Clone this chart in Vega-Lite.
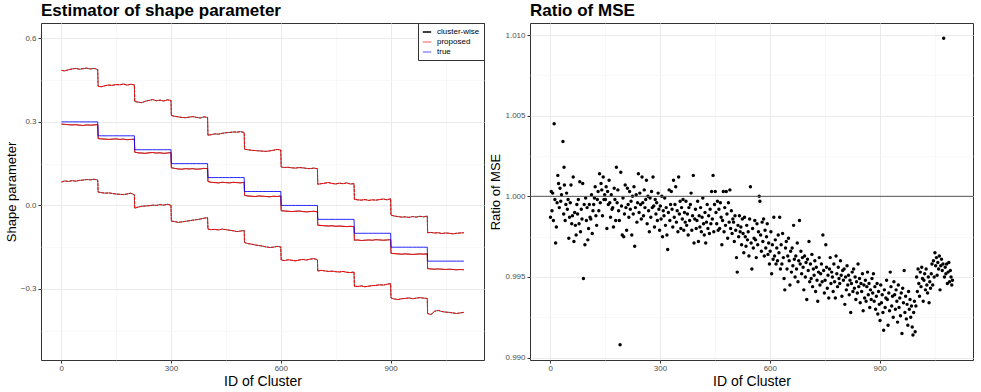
{
"$schema": "https://vega.github.io/schema/vega-lite/v6.json",
"padding": {"left": 4, "top": 1, "right": 6, "bottom": 0},
"background": "white",
"config": {
  "font": "Liberation Sans",
  "view": {"stroke": "#333333", "strokeWidth": 1},
  "axis": {"domain": false, "tickColor": "#333333", "tickSize": 3, "labelColor": "#4D4D4D", "labelFontSize": 8, "labelPadding": 1, "titleFontSize": 14, "titleFontWeight": "normal", "titleColor": "black", "titlePadding": 2}
},
"datasets": {
"est": [
{"id":1,"h":0.485,"m":0.292,"l":0.084,"tr":0.3},{"id":10,"h":0.483,"m":0.291,"l":0.088,"tr":0.3},{"id":20,"h":0.487,"m":0.290,"l":0.086,"tr":0.3},{"id":30,"h":0.490,"m":0.289,"l":0.089,"tr":0.3},{"id":40,"h":0.492,"m":0.290,"l":0.087,"tr":0.3},{"id":50,"h":0.489,"m":0.288,"l":0.090,"tr":0.3},{"id":60,"h":0.491,"m":0.287,"l":0.091,"tr":0.3},{"id":70,"h":0.493,"m":0.289,"l":0.093,"tr":0.3},{"id":80,"h":0.490,"m":0.288,"l":0.092,"tr":0.3},{"id":90,"h":0.492,"m":0.289,"l":0.094,"tr":0.3},{"id":100,"h":0.488,"m":0.290,"l":0.091,"tr":0.3},
{"id":101,"h":0.428,"m":0.240,"l":0.048,"tr":0.25},{"id":110,"h":0.426,"m":0.239,"l":0.046,"tr":0.25},{"id":120,"h":0.430,"m":0.238,"l":0.044,"tr":0.25},{"id":130,"h":0.432,"m":0.237,"l":0.045,"tr":0.25},{"id":140,"h":0.431,"m":0.238,"l":0.043,"tr":0.25},{"id":150,"h":0.434,"m":0.239,"l":0.041,"tr":0.25},{"id":160,"h":0.433,"m":0.237,"l":0.040,"tr":0.25},{"id":170,"h":0.436,"m":0.238,"l":0.039,"tr":0.25},{"id":180,"h":0.432,"m":0.236,"l":0.041,"tr":0.25},{"id":190,"h":0.435,"m":0.237,"l":0.044,"tr":0.25},{"id":200,"h":0.433,"m":0.238,"l":0.038,"tr":0.25},
{"id":201,"h":0.373,"m":0.191,"l":-0.010,"tr":0.2},{"id":210,"h":0.371,"m":0.189,"l":-0.006,"tr":0.2},{"id":220,"h":0.369,"m":0.188,"l":-0.003,"tr":0.2},{"id":230,"h":0.374,"m":0.187,"l":-0.002,"tr":0.2},{"id":240,"h":0.377,"m":0.189,"l":-0.001,"tr":0.2},{"id":250,"h":0.380,"m":0.190,"l":0.001,"tr":0.2},{"id":260,"h":0.376,"m":0.188,"l":0.000,"tr":0.2},{"id":270,"h":0.378,"m":0.189,"l":0.003,"tr":0.2},{"id":280,"h":0.375,"m":0.187,"l":0.001,"tr":0.2},{"id":290,"h":0.379,"m":0.188,"l":0.004,"tr":0.2},{"id":300,"h":0.377,"m":0.190,"l":0.001,"tr":0.2},
{"id":301,"h":0.323,"m":0.135,"l":-0.056,"tr":0.15},{"id":310,"h":0.320,"m":0.133,"l":-0.058,"tr":0.15},{"id":320,"h":0.318,"m":0.131,"l":-0.061,"tr":0.15},{"id":330,"h":0.316,"m":0.130,"l":-0.059,"tr":0.15},{"id":340,"h":0.315,"m":0.132,"l":-0.057,"tr":0.15},{"id":350,"h":0.317,"m":0.131,"l":-0.055,"tr":0.15},{"id":360,"h":0.319,"m":0.132,"l":-0.053,"tr":0.15},{"id":370,"h":0.316,"m":0.130,"l":-0.051,"tr":0.15},{"id":380,"h":0.314,"m":0.131,"l":-0.049,"tr":0.15},{"id":390,"h":0.318,"m":0.133,"l":-0.046,"tr":0.15},{"id":400,"h":0.316,"m":0.132,"l":-0.044,"tr":0.15},
{"id":401,"h":0.252,"m":0.086,"l":-0.085,"tr":0.1},{"id":410,"h":0.254,"m":0.083,"l":-0.087,"tr":0.1},{"id":420,"h":0.257,"m":0.082,"l":-0.086,"tr":0.1},{"id":430,"h":0.256,"m":0.081,"l":-0.088,"tr":0.1},{"id":440,"h":0.259,"m":0.083,"l":-0.085,"tr":0.1},{"id":450,"h":0.261,"m":0.082,"l":-0.087,"tr":0.1},{"id":460,"h":0.262,"m":0.081,"l":-0.089,"tr":0.1},{"id":470,"h":0.264,"m":0.083,"l":-0.091,"tr":0.1},{"id":480,"h":0.263,"m":0.082,"l":-0.094,"tr":0.1},{"id":490,"h":0.265,"m":0.081,"l":-0.092,"tr":0.1},{"id":500,"h":0.262,"m":0.083,"l":-0.090,"tr":0.1},
{"id":501,"h":0.202,"m":0.036,"l":-0.133,"tr":0.05},{"id":510,"h":0.200,"m":0.034,"l":-0.137,"tr":0.05},{"id":520,"h":0.198,"m":0.033,"l":-0.139,"tr":0.05},{"id":530,"h":0.197,"m":0.032,"l":-0.142,"tr":0.05},{"id":540,"h":0.196,"m":0.034,"l":-0.144,"tr":0.05},{"id":550,"h":0.195,"m":0.033,"l":-0.146,"tr":0.05},{"id":560,"h":0.194,"m":0.032,"l":-0.149,"tr":0.05},{"id":570,"h":0.196,"m":0.031,"l":-0.151,"tr":0.05},{"id":580,"h":0.198,"m":0.033,"l":-0.150,"tr":0.05},{"id":590,"h":0.201,"m":0.032,"l":-0.147,"tr":0.05},{"id":600,"h":0.199,"m":0.034,"l":-0.149,"tr":0.05},
{"id":601,"h":0.138,"m":-0.019,"l":-0.196,"tr":0.0},{"id":610,"h":0.136,"m":-0.020,"l":-0.198,"tr":0.0},{"id":620,"h":0.137,"m":-0.021,"l":-0.195,"tr":0.0},{"id":630,"h":0.135,"m":-0.022,"l":-0.197,"tr":0.0},{"id":640,"h":0.134,"m":-0.021,"l":-0.199,"tr":0.0},{"id":650,"h":0.136,"m":-0.020,"l":-0.196,"tr":0.0},{"id":660,"h":0.135,"m":-0.022,"l":-0.194,"tr":0.0},{"id":670,"h":0.133,"m":-0.023,"l":-0.196,"tr":0.0},{"id":680,"h":0.132,"m":-0.022,"l":-0.193,"tr":0.0},{"id":690,"h":0.134,"m":-0.021,"l":-0.191,"tr":0.0},{"id":700,"h":0.132,"m":-0.023,"l":-0.195,"tr":0.0},
{"id":701,"h":0.076,"m":-0.071,"l":-0.236,"tr":-0.05},{"id":710,"h":0.078,"m":-0.072,"l":-0.233,"tr":-0.05},{"id":720,"h":0.080,"m":-0.073,"l":-0.235,"tr":-0.05},{"id":730,"h":0.082,"m":-0.074,"l":-0.237,"tr":-0.05},{"id":740,"h":0.079,"m":-0.073,"l":-0.236,"tr":-0.05},{"id":750,"h":0.077,"m":-0.075,"l":-0.238,"tr":-0.05},{"id":760,"h":0.080,"m":-0.074,"l":-0.239,"tr":-0.05},{"id":770,"h":0.078,"m":-0.075,"l":-0.237,"tr":-0.05},{"id":780,"h":0.081,"m":-0.076,"l":-0.240,"tr":-0.05},{"id":790,"h":0.077,"m":-0.075,"l":-0.241,"tr":-0.05},{"id":800,"h":0.078,"m":-0.076,"l":-0.239,"tr":-0.05},
{"id":801,"h":0.022,"m":-0.125,"l":-0.290,"tr":-0.1},{"id":810,"h":0.020,"m":-0.124,"l":-0.291,"tr":-0.1},{"id":820,"h":0.019,"m":-0.126,"l":-0.289,"tr":-0.1},{"id":830,"h":0.021,"m":-0.125,"l":-0.292,"tr":-0.1},{"id":840,"h":0.018,"m":-0.124,"l":-0.290,"tr":-0.1},{"id":850,"h":0.020,"m":-0.125,"l":-0.288,"tr":-0.1},{"id":860,"h":0.019,"m":-0.123,"l":-0.287,"tr":-0.1},{"id":870,"h":0.021,"m":-0.124,"l":-0.285,"tr":-0.1},{"id":880,"h":0.023,"m":-0.125,"l":-0.286,"tr":-0.1},{"id":890,"h":0.020,"m":-0.124,"l":-0.283,"tr":-0.1},{"id":900,"h":0.024,"m":-0.123,"l":-0.281,"tr":-0.1},
{"id":901,"h":-0.035,"m":-0.172,"l":-0.332,"tr":-0.15},{"id":910,"h":-0.038,"m":-0.173,"l":-0.336,"tr":-0.15},{"id":920,"h":-0.040,"m":-0.174,"l":-0.338,"tr":-0.15},{"id":930,"h":-0.042,"m":-0.175,"l":-0.335,"tr":-0.15},{"id":940,"h":-0.041,"m":-0.174,"l":-0.334,"tr":-0.15},{"id":950,"h":-0.043,"m":-0.175,"l":-0.332,"tr":-0.15},{"id":960,"h":-0.040,"m":-0.176,"l":-0.335,"tr":-0.15},{"id":970,"h":-0.042,"m":-0.175,"l":-0.333,"tr":-0.15},{"id":980,"h":-0.039,"m":-0.174,"l":-0.331,"tr":-0.15},{"id":990,"h":-0.041,"m":-0.175,"l":-0.333,"tr":-0.15},{"id":1000,"h":-0.038,"m":-0.174,"l":-0.334,"tr":-0.15},
{"id":1001,"h":-0.098,"m":-0.227,"l":-0.388,"tr":-0.2},{"id":1010,"h":-0.097,"m":-0.228,"l":-0.392,"tr":-0.2},{"id":1020,"h":-0.099,"m":-0.229,"l":-0.380,"tr":-0.2},{"id":1030,"h":-0.098,"m":-0.228,"l":-0.377,"tr":-0.2},{"id":1040,"h":-0.101,"m":-0.229,"l":-0.381,"tr":-0.2},{"id":1050,"h":-0.099,"m":-0.230,"l":-0.383,"tr":-0.2},{"id":1060,"h":-0.100,"m":-0.229,"l":-0.384,"tr":-0.2},{"id":1070,"h":-0.102,"m":-0.230,"l":-0.386,"tr":-0.2},{"id":1080,"h":-0.100,"m":-0.231,"l":-0.388,"tr":-0.2},{"id":1090,"h":-0.099,"m":-0.230,"l":-0.386,"tr":-0.2},{"id":1100,"h":-0.098,"m":-0.231,"l":-0.384,"tr":-0.2}
],
"mse": [
{"i":1,"r":0.9987},{"i":3,"r":1.0003},{"i":5,"r":0.9991},{"i":7,"r":1.0002},{"i":9,"r":0.9985},
{"i":11,"r":1.0045},{"i":13,"r":0.9998},{"i":15,"r":0.9971},{"i":17,"r":0.9981},{"i":19,"r":0.9996},
{"i":21,"r":1.0013},{"i":23,"r":1.0008},{"i":25,"r":0.9993},{"i":27,"r":1.0005},{"i":29,"r":0.9997},
{"i":31,"r":1.0001},{"i":35,"r":1.0034},{"i":38,"r":1.0018},{"i":37,"r":0.9989},{"i":39,"r":1.0007},
{"i":41,"r":0.9985},{"i":43,"r":0.9995},{"i":45,"r":1.0002},{"i":47,"r":0.9992},{"i":49,"r":0.9998},
{"i":51,"r":0.9974},{"i":53,"r":0.9987},{"i":55,"r":0.9996},{"i":57,"r":1.0007},{"i":59,"r":0.9983},
{"i":61,"r":0.9988},{"i":63,"r":1.0012},{"i":65,"r":0.9972},{"i":67,"r":0.9990},{"i":69,"r":0.9982},
{"i":71,"r":0.9976},{"i":73,"r":0.9995},{"i":75,"r":0.9989},{"i":77,"r":0.9998},{"i":79,"r":0.9983},
{"i":81,"r":1.0009},{"i":83,"r":0.9978},{"i":85,"r":0.9992},{"i":87,"r":0.9986},{"i":89,"r":1.0008},
{"i":91,"r":0.9949},{"i":93,"r":0.9995},{"i":95,"r":0.9970},{"i":97,"r":0.9999},{"i":99,"r":0.9985},
{"i":101,"r":0.9993},{"i":103,"r":0.9973},{"i":105,"r":0.9980},{"i":107,"r":0.9995},{"i":109,"r":0.9987},
{"i":111,"r":0.9986},{"i":113,"r":1.0001},{"i":115,"r":0.9977},{"i":117,"r":0.9991},{"i":119,"r":0.9995},
{"i":121,"r":0.9999},{"i":123,"r":1.0006},{"i":125,"r":0.9988},{"i":127,"r":0.9982},{"i":129,"r":0.9998},
{"i":131,"r":1.0003},{"i":133,"r":0.9991},{"i":135,"r":1.0014},{"i":137,"r":0.9996},{"i":139,"r":1.0008},
{"i":141,"r":1.0004},{"i":143,"r":0.9988},{"i":145,"r":1.0012},{"i":147,"r":0.9998},{"i":149,"r":1.0001},
{"i":151,"r":0.9998},{"i":153,"r":1.0006},{"i":155,"r":0.9980},{"i":157,"r":1.0003},{"i":159,"r":0.9995},
{"i":161,"r":1.0010},{"i":163,"r":0.9996},{"i":165,"r":0.9987},{"i":167,"r":1.0001},{"i":169,"r":0.9992},
{"i":171,"r":0.9993},{"i":173,"r":0.9981},{"i":175,"r":1.0005},{"i":177,"r":0.9998},{"i":179,"r":0.9985},
{"i":181,"r":1.0018},{"i":183,"r":0.9996},{"i":185,"r":1.0004},{"i":187,"r":0.9991},{"i":189,"r":0.9985},
{"i":191,"r":0.9908},{"i":193,"r":1.0015},{"i":195,"r":0.9994},{"i":197,"r":0.9976},{"i":199,"r":0.9999},
{"i":201,"r":0.9975},{"i":203,"r":0.9989},{"i":205,"r":1.0007},{"i":207,"r":0.9993},{"i":209,"r":0.9979},
{"i":211,"r":1.0005},{"i":213,"r":0.9995},{"i":215,"r":0.9987},{"i":217,"r":1.0003},{"i":219,"r":0.9992},
{"i":221,"r":0.9997},{"i":223,"r":0.9976},{"i":225,"r":1.0000},{"i":227,"r":0.9989},{"i":229,"r":1.0006},
{"i":231,"r":0.9969},{"i":233,"r":0.9993},{"i":235,"r":1.0001},{"i":237,"r":0.9984},{"i":239,"r":0.9996},
{"i":241,"r":1.0014},{"i":243,"r":0.9990},{"i":245,"r":1.0002},{"i":247,"r":0.9995},{"i":249,"r":0.9986},
{"i":251,"r":1.0012},{"i":253,"r":0.9996},{"i":255,"r":0.9988},{"i":257,"r":1.0004},{"i":259,"r":0.9993},
{"i":261,"r":0.9998},{"i":263,"r":1.0010},{"i":265,"r":0.9983},{"i":267,"r":1.0000},{"i":269,"r":0.9991},
{"i":271,"r":0.9978},{"i":273,"r":0.9999},{"i":275,"r":0.9987},{"i":277,"r":1.0003},{"i":279,"r":0.9993},
{"i":281,"r":1.0012},{"i":283,"r":0.9994},{"i":285,"r":0.9981},{"i":287,"r":0.9998},{"i":289,"r":0.9989},
{"i":291,"r":0.9996},{"i":293,"r":0.9985},{"i":295,"r":1.0002},{"i":297,"r":0.9992},{"i":299,"r":0.9979},
{"i":301,"r":0.9994},{"i":303,"r":0.9986},{"i":305,"r":1.0000},{"i":307,"r":0.9975},{"i":309,"r":0.9991},
{"i":311,"r":0.9988},{"i":313,"r":0.9999},{"i":315,"r":0.9982},{"i":317,"r":0.9993},{"i":319,"r":0.9976},
{"i":321,"r":0.9967},{"i":323,"r":0.9990},{"i":325,"r":1.0004},{"i":327,"r":0.9985},{"i":329,"r":0.9995},
{"i":331,"r":1.0003},{"i":333,"r":0.9992},{"i":335,"r":0.9981},{"i":337,"r":1.0010},{"i":339,"r":0.9987},
{"i":341,"r":0.9995},{"i":343,"r":1.0006},{"i":345,"r":0.9984},{"i":347,"r":0.9991},{"i":349,"r":0.9978},
{"i":351,"r":1.0012},{"i":353,"r":0.9989},{"i":355,"r":0.9997},{"i":357,"r":0.9980},{"i":359,"r":0.9993},
{"i":361,"r":0.9986},{"i":363,"r":0.9998},{"i":365,"r":0.9979},{"i":367,"r":0.9990},{"i":369,"r":0.9984},
{"i":371,"r":0.9997},{"i":373,"r":0.9982},{"i":375,"r":0.9989},{"i":377,"r":0.9976},{"i":379,"r":0.9993},
{"i":381,"r":0.9985},{"i":383,"r":0.9995},{"i":385,"r":1.0002},{"i":387,"r":0.9979},{"i":389,"r":0.9988},
{"i":391,"r":1.0013},{"i":393,"r":0.9971},{"i":395,"r":0.9986},{"i":397,"r":0.9992},{"i":399,"r":0.9980},
{"i":401,"r":0.9985},{"i":403,"r":0.9997},{"i":405,"r":0.9972},{"i":407,"r":0.9988},{"i":409,"r":0.9981},
{"i":411,"r":0.9993},{"i":413,"r":0.9978},{"i":415,"r":0.9987},{"i":417,"r":0.9999},{"i":419,"r":0.9983},
{"i":421,"r":0.9976},{"i":423,"r":0.9990},{"i":425,"r":0.9971},{"i":427,"r":0.9984},{"i":429,"r":0.9995},
{"i":431,"r":0.9980},{"i":433,"r":0.9988},{"i":435,"r":0.9977},{"i":437,"r":0.9992},{"i":439,"r":0.9983},
{"i":441,"r":1.0003},{"i":443,"r":0.9986},{"i":445,"r":1.0013},{"i":447,"r":0.9978},{"i":449,"r":0.9995},
{"i":451,"r":1.0003},{"i":453,"r":0.9990},{"i":455,"r":0.9983},{"i":457,"r":0.9997},{"i":459,"r":0.9979},
{"i":461,"r":0.9992},{"i":463,"r":0.9980},{"i":465,"r":0.9996},{"i":467,"r":0.9987},{"i":469,"r":0.9970},
{"i":471,"r":0.9985},{"i":473,"r":1.0003},{"i":475,"r":0.9978},{"i":477,"r":0.9993},{"i":479,"r":0.9982},
{"i":481,"r":1.0003},{"i":483,"r":0.9989},{"i":485,"r":0.9974},{"i":487,"r":0.9996},{"i":489,"r":0.9984},
{"i":491,"r":1.0004},{"i":493,"r":0.9980},{"i":495,"r":0.9991},{"i":497,"r":0.9977},{"i":499,"r":0.9986},
{"i":501,"r":0.9984},{"i":503,"r":0.9972},{"i":505,"r":0.9988},{"i":507,"r":0.9979},{"i":509,"r":0.9962},
{"i":511,"r":0.9953},{"i":513,"r":0.9982},{"i":515,"r":0.9975},{"i":517,"r":0.9988},{"i":519,"r":0.9978},
{"i":521,"r":0.9981},{"i":523,"r":0.9970},{"i":525,"r":0.9986},{"i":527,"r":0.9977},{"i":529,"r":0.9965},
{"i":531,"r":0.9987},{"i":533,"r":0.9975},{"i":535,"r":0.9969},{"i":537,"r":0.9982},{"i":539,"r":0.9973},
{"i":541,"r":0.9978},{"i":543,"r":0.9963},{"i":545,"r":0.9986},{"i":547,"r":1.0006},{"i":549,"r":0.9971},
{"i":551,"r":0.9955},{"i":553,"r":0.9980},{"i":555,"r":0.9968},{"i":557,"r":0.9974},{"i":559,"r":0.9985},
{"i":561,"r":0.9973},{"i":563,"r":0.9962},{"i":565,"r":0.9983},{"i":567,"r":0.9970},{"i":569,"r":0.9978},
{"i":571,"r":1.0000},{"i":573,"r":0.9997},{"i":575,"r":0.9976},{"i":577,"r":0.9966},{"i":579,"r":0.9984},
{"i":581,"r":0.9972},{"i":583,"r":0.9986},{"i":585,"r":0.9963},{"i":587,"r":0.9979},{"i":589,"r":0.9968},
{"i":591,"r":0.9975},{"i":593,"r":0.9983},{"i":595,"r":0.9964},{"i":597,"r":0.9971},{"i":599,"r":0.9958},
{"i":601,"r":0.9966},{"i":603,"r":0.9978},{"i":605,"r":0.9952},{"i":607,"r":0.9970},{"i":609,"r":0.9961},
{"i":611,"r":0.9987},{"i":613,"r":0.9963},{"i":615,"r":0.9973},{"i":617,"r":0.9958},{"i":619,"r":0.9968},
{"i":621,"r":0.9960},{"i":623,"r":0.9976},{"i":625,"r":0.9965},{"i":627,"r":0.9987},{"i":629,"r":0.9955},
{"i":631,"r":0.9970},{"i":633,"r":0.9958},{"i":635,"r":0.9977},{"i":637,"r":0.9962},{"i":639,"r":0.9949},
{"i":641,"r":0.9942},{"i":643,"r":0.9968},{"i":645,"r":0.9972},{"i":647,"r":0.9955},{"i":649,"r":0.9963},
{"i":651,"r":0.9974},{"i":653,"r":0.9960},{"i":655,"r":0.9945},{"i":657,"r":0.9966},{"i":659,"r":0.9953},
{"i":661,"r":0.9968},{"i":663,"r":0.9957},{"i":665,"r":0.9982},{"i":667,"r":0.9961},{"i":669,"r":0.9950},
{"i":671,"r":0.9963},{"i":673,"r":0.9955},{"i":675,"r":0.9971},{"i":677,"r":0.9947},{"i":679,"r":0.9960},
{"i":681,"r":0.9985},{"i":683,"r":0.9958},{"i":685,"r":0.9966},{"i":687,"r":0.9952},{"i":689,"r":0.9962},
{"i":691,"r":0.9956},{"i":693,"r":0.9942},{"i":695,"r":0.9963},{"i":697,"r":0.9950},{"i":699,"r":0.9959},
{"i":701,"r":0.9936},{"i":703,"r":0.9961},{"i":705,"r":0.9954},{"i":707,"r":0.9972},{"i":709,"r":0.9947},
{"i":711,"r":0.9958},{"i":713,"r":0.9949},{"i":715,"r":0.9964},{"i":717,"r":0.9944},{"i":719,"r":0.9955},
{"i":721,"r":0.9951},{"i":723,"r":0.9960},{"i":725,"r":0.9941},{"i":727,"r":0.9956},{"i":729,"r":0.9948},
{"i":731,"r":0.9935},{"i":733,"r":0.9953},{"i":735,"r":0.9962},{"i":737,"r":0.9945},{"i":739,"r":0.9952},
{"i":741,"r":0.9958},{"i":743,"r":0.9947},{"i":745,"r":0.9976},{"i":747,"r":0.9954},{"i":749,"r":0.9940},
{"i":751,"r":0.9948},{"i":753,"r":0.9970},{"i":755,"r":0.9956},{"i":757,"r":0.9943},{"i":759,"r":0.9951},
{"i":761,"r":0.9937},{"i":763,"r":0.9955},{"i":765,"r":0.9962},{"i":767,"r":0.9946},{"i":769,"r":0.9953},
{"i":771,"r":0.9950},{"i":773,"r":0.9941},{"i":775,"r":0.9958},{"i":777,"r":0.9947},{"i":779,"r":0.9937},
{"i":781,"r":0.9963},{"i":783,"r":0.9952},{"i":785,"r":0.9944},{"i":787,"r":0.9956},{"i":789,"r":0.9949},
{"i":791,"r":0.9946},{"i":793,"r":0.9960},{"i":795,"r":0.9951},{"i":797,"r":0.9938},{"i":799,"r":0.9954},
{"i":801,"r":0.9948},{"i":803,"r":0.9955},{"i":805,"r":0.9933},{"i":807,"r":0.9950},{"i":809,"r":0.9942},
{"i":811,"r":0.9957},{"i":813,"r":0.9945},{"i":815,"r":0.9951},{"i":817,"r":0.9939},{"i":819,"r":0.9948},
{"i":821,"r":0.9928},{"i":823,"r":0.9946},{"i":825,"r":0.9953},{"i":827,"r":0.9941},{"i":829,"r":0.9955},
{"i":831,"r":0.9943},{"i":833,"r":0.9950},{"i":835,"r":0.9936},{"i":837,"r":0.9947},{"i":839,"r":0.9940},
{"i":841,"r":0.9958},{"i":843,"r":0.9944},{"i":845,"r":0.9949},{"i":847,"r":0.9934},{"i":849,"r":0.9946},
{"i":851,"r":0.9941},{"i":853,"r":0.9952},{"i":855,"r":0.9929},{"i":857,"r":0.9945},{"i":859,"r":0.9937},
{"i":861,"r":0.9948},{"i":863,"r":0.9935},{"i":865,"r":0.9944},{"i":867,"r":0.9953},{"i":869,"r":0.9939},
{"i":871,"r":0.9946},{"i":873,"r":0.9931},{"i":875,"r":0.9942},{"i":877,"r":0.9936},{"i":879,"r":0.9949},
{"i":881,"r":0.9940},{"i":883,"r":0.9952},{"i":885,"r":0.9935},{"i":887,"r":0.9944},{"i":889,"r":0.9930},
{"i":891,"r":0.9938},{"i":893,"r":0.9946},{"i":895,"r":0.9927},{"i":897,"r":0.9941},{"i":899,"r":0.9933},
{"i":901,"r":0.9923},{"i":903,"r":0.9945},{"i":905,"r":0.9934},{"i":907,"r":0.9939},{"i":909,"r":0.9928},
{"i":911,"r":0.9917},{"i":913,"r":0.9942},{"i":915,"r":0.9931},{"i":917,"r":0.9937},{"i":919,"r":0.9948},
{"i":921,"r":0.9936},{"i":923,"r":0.9920},{"i":925,"r":0.9940},{"i":927,"r":0.9929},{"i":929,"r":0.9953},
{"i":931,"r":0.9944},{"i":933,"r":0.9932},{"i":935,"r":0.9938},{"i":937,"r":0.9925},{"i":939,"r":0.9947},
{"i":941,"r":0.9939},{"i":943,"r":0.9930},{"i":945,"r":0.9942},{"i":947,"r":0.9935},{"i":949,"r":0.9922},
{"i":951,"r":0.9945},{"i":953,"r":0.9931},{"i":955,"r":0.9937},{"i":957,"r":0.9926},{"i":959,"r":0.9940},
{"i":961,"r":0.9915},{"i":963,"r":0.9943},{"i":965,"r":0.9934},{"i":967,"r":0.9954},{"i":969,"r":0.9928},
{"i":971,"r":0.9938},{"i":973,"r":0.9924},{"i":975,"r":0.9933},{"i":977,"r":0.9920},{"i":979,"r":0.9941},
{"i":981,"r":0.9930},{"i":983,"r":0.9936},{"i":985,"r":0.9925},{"i":987,"r":0.9932},{"i":989,"r":0.9919},
{"i":991,"r":0.9914},{"i":993,"r":0.9928},{"i":995,"r":0.9935},{"i":997,"r":0.9916},{"i":999,"r":0.9932},
{"i":1001,"r":0.9950},{"i":1003,"r":0.9941},{"i":1005,"r":0.9955},{"i":1007,"r":0.9946},{"i":1009,"r":0.9938},
{"i":1011,"r":0.9953},{"i":1013,"r":0.9944},{"i":1015,"r":0.9956},{"i":1017,"r":0.9949},{"i":1019,"r":0.9935},
{"i":1021,"r":0.9948},{"i":1023,"r":0.9952},{"i":1025,"r":0.9942},{"i":1027,"r":0.9955},{"i":1029,"r":0.9945},
{"i":1031,"r":0.9940},{"i":1033,"r":0.9950},{"i":1035,"r":0.9934},{"i":1037,"r":0.9947},{"i":1039,"r":0.9943},
{"i":1041,"r":0.9952},{"i":1043,"r":0.9958},{"i":1045,"r":0.9945},{"i":1047,"r":0.9960},{"i":1049,"r":0.9950},
{"i":1051,"r":0.9965},{"i":1053,"r":0.9957},{"i":1055,"r":0.9962},{"i":1057,"r":0.9951},{"i":1059,"r":0.9959},
{"i":1061,"r":0.9955},{"i":1063,"r":0.9963},{"i":1065,"r":0.9942},{"i":1067,"r":0.9957},{"i":1069,"r":0.9961},
{"i":1075,"r":1.0098},{"i":1071,"r":0.9954},{"i":1073,"r":0.9958},{"i":1077,"r":0.9950},{"i":1079,"r":0.9956},
{"i":1081,"r":0.9952},{"i":1083,"r":0.9958},{"i":1085,"r":0.9946},{"i":1087,"r":0.9953},{"i":1089,"r":0.9959},
{"i":1091,"r":0.9947},{"i":1093,"r":0.9954},{"i":1095,"r":0.9950},{"i":1097,"r":0.9945},{"i":1099,"r":0.9948}
]
},
"spacing": 4,
"resolve": {"scale": {"color": "independent"}},
"hconcat": [
{
  "width": 443, "height": 337,
  "title": {"text": "Estimator of shape parameter", "anchor": "start", "frame": "group", "fontSize": 17, "fontWeight": "bold", "offset": 3, "color": "black"},
  "data": {"name": "est"},
  "encoding": {
    "x": {"field": "id", "type": "quantitative", "scale": {"domain": [-55, 1155], "nice": false, "zero": false},
      "axis": {"title": "ID of Cluster", "values": [0,150,300,450,600,750,900,1050], "labelExpr": "datum.value % 300 === 0 ? datum.label : ''",
        "tickOpacity": {"condition": {"test": "datum.value % 300 === 0", "value": 1}, "value": 0},
        "gridColor": {"condition": {"test": "datum.value % 300 === 0", "value": "#EBEBEB"}, "value": "#F3F3F3"},
        "gridWidth": {"condition": {"test": "datum.value % 300 === 0", "value": 1}, "value": 0.6}}}
  },
  "layer": [
    {"transform": [{"fold": ["h", "m", "l"], "as": ["bound", "val"]}],
     "mark": {"type": "line", "strokeWidth": 0.6},
     "encoding": {
       "y": {"field": "val", "type": "quantitative", "scale": {"domain": [-0.555, 0.655], "nice": false, "zero": false},
         "axis": {"title": "Shape parameter", "titleFontSize": 13, "labelPadding": 2, "values": [-0.45,-0.3,-0.15,0,0.15,0.3,0.45,0.6], "format": ".1f",
           "labelExpr": "abs(datum.value*10/3 - round(datum.value*10/3)) < 0.01 ? datum.label : ''",
           "tickOpacity": {"condition": {"test": "abs(datum.value*10/3 - round(datum.value*10/3)) < 0.01", "value": 1}, "value": 0},
           "gridColor": {"condition": {"test": "abs(datum.value*10/3 - round(datum.value*10/3)) < 0.01", "value": "#EBEBEB"}, "value": "#F3F3F3"},
           "gridWidth": {"condition": {"test": "abs(datum.value*10/3 - round(datum.value*10/3)) < 0.01", "value": 1}, "value": 0.6}}},
       "detail": {"field": "bound"},
       "color": {"datum": "cluster-wise", "scale": {"domain": ["cluster-wise", "proposed", "true"], "range": ["#000000", "#FF0000", "#0000FF"]},
         "legend": {"orient": "top-right", "offset": 0, "title": null, "symbolType": "stroke", "strokeColor": "#333333", "fillColor": "white", "padding": 4, "labelFontSize": 8, "labelColor": "black", "symbolSize": 70, "symbolStrokeWidth": 1.5, "rowPadding": 1, "labelOffset": 5,
           "encode": {"symbols": {"update": {"strokeOpacity": {"signal": "datum.value === 'cluster-wise' ? 1 : 0.45"}}}}}}
     }},
    {"transform": [{"fold": ["h", "m", "l"], "as": ["bound", "val"]}],
     "mark": {"type": "line", "strokeWidth": 1},
     "encoding": {
       "y": {"field": "val", "type": "quantitative"},
       "detail": {"field": "bound"},
       "strokeDash": {"field": "bound", "type": "nominal", "scale": {"domain": ["h", "m", "l"], "range": [[3, 1], [1, 0], [3, 1]]}, "legend": null},
       "color": {"datum": "proposed"}
     }},
    {"mark": {"type": "line", "strokeWidth": 1, "opacity": 0.85},
     "encoding": {
       "y": {"field": "tr", "type": "quantitative"},
       "color": {"datum": "true"}
     }}
  ]
},
{
  "width": 443, "height": 337,
  "title": {"text": "Ratio of MSE", "anchor": "start", "frame": "group", "fontSize": 17, "fontWeight": "bold", "offset": 3, "color": "black"},
  "layer": [
    {"data": {"name": "mse"},
     "mark": {"type": "circle", "size": 12, "color": "black", "opacity": 1},
     "encoding": {
       "x": {"field": "i", "type": "quantitative", "scale": {"domain": [-55, 1155], "nice": false, "zero": false},
         "axis": {"title": "ID of Cluster", "values": [0,150,300,450,600,750,900,1050], "labelExpr": "datum.value % 300 === 0 ? datum.label : ''",
           "tickOpacity": {"condition": {"test": "datum.value % 300 === 0", "value": 1}, "value": 0},
           "gridColor": {"condition": {"test": "datum.value % 300 === 0", "value": "#EBEBEB"}, "value": "#F3F3F3"},
           "gridWidth": {"condition": {"test": "datum.value % 300 === 0", "value": 1}, "value": 0.6}}},
       "y": {"field": "r", "type": "quantitative", "scale": {"domain": [0.98985, 1.01075], "nice": false, "zero": false},
         "axis": {"title": "Ratio of MSE", "titleFontSize": 13, "labelPadding": 2, "values": [0.99,0.9925,0.995,0.9975,1.0,1.0025,1.005,1.0075,1.01], "format": ".3f",
           "labelExpr": "abs(datum.value*200 - round(datum.value*200)) < 0.01 ? datum.label : ''",
           "tickOpacity": {"condition": {"test": "abs(datum.value*200 - round(datum.value*200)) < 0.01", "value": 1}, "value": 0},
           "gridColor": {"condition": {"test": "abs(datum.value*200 - round(datum.value*200)) < 0.01", "value": "#EBEBEB"}, "value": "#F3F3F3"},
           "gridWidth": {"condition": {"test": "abs(datum.value*200 - round(datum.value*200)) < 0.01", "value": 1}, "value": 0.6}}}
     }},
    {"data": {"values": [{}]},
     "mark": {"type": "rule", "color": "#555555", "strokeWidth": 1},
     "encoding": {"y": {"datum": 1.0}}}
  ]
}
]
}
